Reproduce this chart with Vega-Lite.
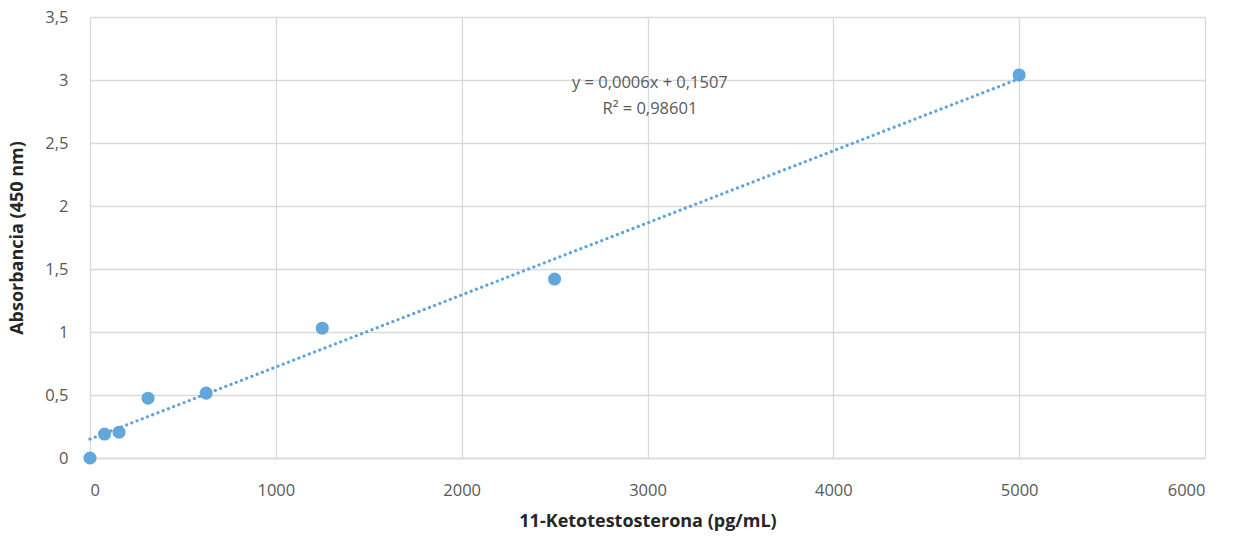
{
  "$schema": "https://vega.github.io/schema/vega-lite/v6.json",
  "autosize": {"type": "none"},
  "padding": {"left": 90, "top": 17, "right": 33, "bottom": 81},
  "width": 1115,
  "height": 441,
  "background": "white",
  "config": {
    "view": {"stroke": null},
    "font": "Open Sans",
    "axis": {
      "gridColor": "#d9d9d9",
      "gridWidth": 1.3,
      "ticks": false,
      "domain": false,
      "labelColor": "#595959",
      "labelFontSize": 16.5,
      "labelFont": "Open Sans",
      "titleFont": "Open Sans",
      "titleFontSize": 18,
      "titleFontWeight": "bold",
      "titleColor": "#262626"
    }
  },
  "data": {
    "values": [
      {"conc": 0, "abs": 0.0},
      {"conc": 78.125, "abs": 0.19},
      {"conc": 156.25, "abs": 0.205},
      {"conc": 312.5, "abs": 0.475},
      {"conc": 625, "abs": 0.515},
      {"conc": 1250, "abs": 1.03},
      {"conc": 2500, "abs": 1.42},
      {"conc": 5000, "abs": 3.04}
    ]
  },
  "layer": [
    {
      "transform": [{"regression": "abs", "on": "conc", "extent": [0, 5000]}],
      "mark": {"type": "line", "color": "#5FA5DC", "strokeDash": [0.1, 5.5], "strokeWidth": 3.2, "strokeCap": "round"},
      "encoding": {
        "x": {"field": "conc", "type": "quantitative"},
        "y": {"field": "abs", "type": "quantitative"}
      }
    },
    {
      "mark": {"type": "point", "filled": true, "opacity": 1, "size": 170, "color": "#62A7DC"},
      "encoding": {
        "x": {
          "field": "conc", "type": "quantitative",
          "scale": {"domain": [0, 6000], "nice": false},
          "axis": {
            "title": "11-Ketotestosterona (pg/mL)",
            "values": [0, 1000, 2000, 3000, 4000, 5000, 6000],
            "format": "d",
            "labelPadding": 24,
            "titlePadding": 14,
            "domain": true,
            "domainColor": "#d9d9d9",
            "domainWidth": 1.3
          }
        },
        "y": {
          "field": "abs", "type": "quantitative",
          "scale": {"domain": [0, 3.5], "nice": false},
          "axis": {
            "title": "Absorbancia (450 nm)",
            "values": [0, 0.5, 1, 1.5, 2, 2.5, 3, 3.5],
            "labelExpr": "replace(toString(datum.value), '.', ',')",
            "labelPadding": 22,
            "titlePadding": 18
          }
        }
      }
    },
    {
      "data": {"values": [{"conc": 3013, "abs": 2.98, "label": ["y = 0,0006x + 0,1507", "R² = 0,98601"]}]},
      "mark": {"type": "text", "fontSize": 16.5, "color": "#595959", "align": "center", "baseline": "middle", "lineHeight": 26, "font": "Open Sans"},
      "encoding": {
        "x": {"field": "conc", "type": "quantitative"},
        "y": {"field": "abs", "type": "quantitative"},
        "text": {"field": "label"}
      }
    }
  ]
}
